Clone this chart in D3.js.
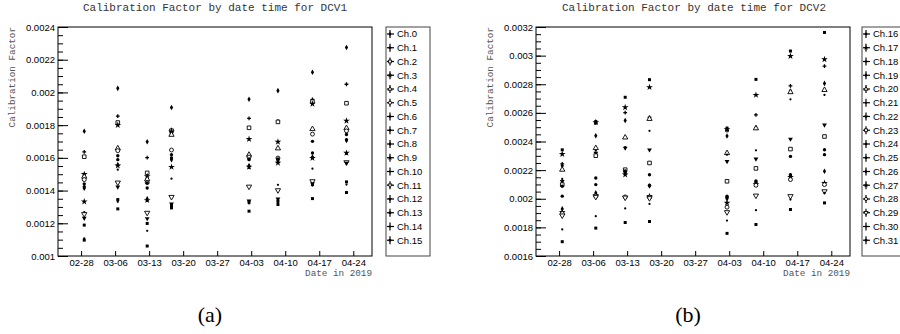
<!DOCTYPE html>
<html>
<head>
<meta charset="utf-8">
<script src="https://cdn.jsdelivr.net/npm/d3@7"></script>
<style>
  body { margin: 0; background: #fff; }
  svg { display: block; }
</style>
</head>
<body>
<svg id="chart" width="900" height="334"></svg>
<script>
// x axis is counted in days from the first tick (02-28)
const tickLabels = ["02-28", "03-06", "03-13", "03-20", "03-27", "04-03", "04-10", "04-17", "04-24"];
const tickDays = [0, 7, 14, 21, 28, 35, 42, 49, 56];
const runDays = [0.65, 7.55, 13.6, 18.6, 34.55, 40.5, 47.6, 54.6];

const channels1 = d3.range(0, 16).map(i => "Ch." + i);
const channels2 = d3.range(16, 32).map(i => "Ch." + i);

// one row per run, 16 values (one per channel)
const dcv1 = [
  [0.001763, 0.001636, 0.001607, 0.0015, 0.001485, 0.001467, 0.001441, 0.001424, 0.001414, 0.001333, 0.001268, 0.001256, 0.001231, 0.001189, 0.001108, 0.001097],
  [0.002025, 0.001855, 0.001816, 0.0018, 0.001658, 0.001644, 0.001613, 0.001589, 0.001558, 0.001552, 0.001528, 0.001449, 0.001422, 0.001345, 0.001331, 0.001288],
  [0.001698, 0.001601, 0.001508, 0.001487, 0.001469, 0.001449, 0.001447, 0.001416, 0.001349, 0.001341, 0.001337, 0.001264, 0.001229, 0.001199, 0.001154, 0.001061],
  [0.001908, 0.001772, 0.001766, 0.001761, 0.001741, 0.001648, 0.001619, 0.001599, 0.001589, 0.001544, 0.001473, 0.001361, 0.001319, 0.001309, 0.001305, 0.001294],
  [0.001958, 0.001841, 0.001784, 0.001715, 0.001619, 0.001605, 0.001594, 0.001589, 0.001552, 0.001545, 0.001538, 0.001424, 0.001337, 0.001329, 0.001321, 0.001274],
  [0.002011, 0.001824, 0.00182, 0.001698, 0.001658, 0.001599, 0.001594, 0.001589, 0.001579, 0.001569, 0.001435, 0.001402, 0.001349, 0.001335, 0.001325, 0.001315],
  [0.002123, 0.001958, 0.001944, 0.00193, 0.001776, 0.001745, 0.001701, 0.00163, 0.001605, 0.001599, 0.001534, 0.001457, 0.001443, 0.001437, 0.001431, 0.001351],
  [0.002275, 0.00205, 0.001934, 0.001826, 0.001782, 0.001765, 0.001743, 0.001711, 0.001706, 0.00163, 0.001625, 0.001573, 0.001568, 0.001453, 0.001437, 0.001388]
];

const dcv2 = [
  [0.002342, 0.002312, 0.002243, 0.002231, 0.002203, 0.002138, 0.002122, 0.002099, 0.002087, 0.002018, 0.001929, 0.001906, 0.001897, 0.001883, 0.001786, 0.0017],
  [0.00254, 0.002534, 0.002528, 0.00244, 0.002354, 0.002336, 0.002319, 0.002301, 0.002145, 0.002099, 0.002041, 0.002025, 0.002019, 0.002013, 0.001878, 0.001795],
  [0.002709, 0.002639, 0.002602, 0.002547, 0.002428, 0.002361, 0.002354, 0.002203, 0.002194, 0.002185, 0.002176, 0.002168, 0.002013, 0.002008, 0.001932, 0.001834],
  [0.002832, 0.002779, 0.002568, 0.002563, 0.002558, 0.002475, 0.002342, 0.00225, 0.002168, 0.002094, 0.002089, 0.002018, 0.002011, 0.002004, 0.001964, 0.001841],
  [0.002493, 0.002485, 0.002477, 0.002438, 0.002319, 0.002308, 0.002261, 0.002122, 0.002018, 0.002009, 0.002, 0.001971, 0.001941, 0.001906, 0.001848, 0.001758],
  [0.002834, 0.002725, 0.002586, 0.002498, 0.002492, 0.002338, 0.002278, 0.002212, 0.002124, 0.002117, 0.00211, 0.002102, 0.002094, 0.002022, 0.00192, 0.00182],
  [0.003032, 0.002997, 0.002788, 0.002753, 0.002745, 0.002695, 0.002417, 0.002347, 0.002296, 0.002168, 0.00216, 0.002152, 0.002134, 0.002018, 0.001994, 0.001925],
  [0.003162, 0.002974, 0.002927, 0.002806, 0.00276, 0.002725, 0.002516, 0.002435, 0.002342, 0.002308, 0.002192, 0.00211, 0.002099, 0.002052, 0.002041, 0.001971]
];

const yTicks1 = [0.001, 0.0012, 0.0014, 0.0016, 0.0018, 0.002, 0.0022, 0.0024];
const yTicks2 = [0.0016, 0.0018, 0.002, 0.0022, 0.0024, 0.0026, 0.0028, 0.003, 0.0032];

// marker style for each channel
const markers1 = ["diamond", "plus", "squareOpen", "star", "triangleOpen", "circleOpen", "circle", "circle",
  "diamond", "star", "dot", "triangleDownOpen", "triangleDown", "square", "dot", "square"];
const markers2 = ["square", "star", "plus", "diamond", "triangleOpen", "dot", "triangleDown", "squareOpen",
  "circle", "circle", "diamond", "star", "circleOpen", "triangleDownOpen", "dot", "square"];

const svg = d3.select("#chart");

function marker(g, type, scale) {
  const k = scale || 1;
  let shape = d3.symbolCircle, size = 9, open = false, rot = 0;
  if (type === "dot") { size = 4; }
  if (type === "square") { shape = d3.symbolSquare; size = 9; }
  if (type === "squareOpen") { shape = d3.symbolSquare; size = 13; open = true; }
  if (type === "circleOpen") { size = 12; open = true; }
  if (type === "diamond") { shape = d3.symbolDiamond; size = 9; }
  if (type === "star") { shape = d3.symbolStar; size = 14; }
  if (type === "plus") { shape = d3.symbolCross; size = 8; }
  if (type === "triangleOpen") { shape = d3.symbolTriangle; size = 12; open = true; }
  if (type === "triangleDown") { shape = d3.symbolTriangle; size = 10; rot = 180; }
  if (type === "triangleDownOpen") { shape = d3.symbolTriangle; size = 12; open = true; rot = 180; }
  const p = g.append("path")
    .attr("d", d3.symbol(shape, size * k * k)())
    .attr("transform", `rotate(${rot})`);
  if (open) p.attr("fill", "#fff").attr("stroke", "#000").attr("stroke-width", 0.9);
  else p.attr("fill", "#000");
}

function drawPanel(opt) {
  const g = svg.append("g")
    .attr("transform", `translate(${opt.left},27)`);
  const w = 314, h = 229;

  const x = d3.scaleLinear().domain([-4.75, 59.85]).range([0, w]);
  const y = d3.scaleLinear().domain(opt.yDomain).range([h, 0]);

  // title
  svg.append("text")
    .attr("x", opt.left + opt.titleDx)
    .attr("y", 11)
    .attr("text-anchor", "middle")
    .attr("font-family", "Liberation Mono, monospace")
    .attr("font-size", 11)
    .attr("fill", "#333")
    .text(opt.title);

  // y axis, ticks inside the frame
  const minor = d3.range(opt.yDomain[0], opt.yDomain[1] + 1e-9, 0.00005);
  g.append("g")
    .call(d3.axisRight(y).tickValues(minor).tickSize(5).tickFormat(""))
    .call(g => g.select(".domain").remove())
    .call(g => g.selectAll("line").attr("stroke", "#000"));
  g.append("g")
    .call(d3.axisRight(y).tickValues(opt.yTicks).tickSize(10).tickFormat(""))
    .call(g => g.select(".domain").remove())
    .call(g => g.selectAll("line").attr("stroke", "#000"));
  g.append("g")
    .call(d3.axisLeft(y).tickValues(opt.yTicks).tickSize(0).tickPadding(3).tickFormat(d => +d.toFixed(4)))
    .call(g => g.select(".domain").remove())
    .call(g => g.selectAll("text")
      .attr("font-family", "Liberation Sans, Arial, sans-serif")
      .attr("font-size", 9.5)
      .attr("fill", "#000"));

  // x axis
  g.append("g")
    .attr("transform", `translate(0,${h})`)
    .call(d3.axisTop(x).tickValues(tickDays).tickSize(5).tickFormat(""))
    .call(g => g.select(".domain").remove())
    .call(g => g.selectAll("line").attr("stroke", "#000"));
  g.append("g")
    .attr("transform", `translate(0,${h})`)
    .call(d3.axisBottom(x).tickValues(tickDays).tickSize(0).tickPadding(3)
      .tickFormat((d, i) => tickLabels[i]))
    .call(g => g.select(".domain").remove())
    .call(g => g.selectAll("text")
      .attr("font-family", "Liberation Sans, Arial, sans-serif")
      .attr("font-size", 9.5)
      .attr("fill", "#000"));

  // axis titles
  g.append("text")
    .attr("x", w)
    .attr("y", h + 20)
    .attr("text-anchor", "end")
    .attr("font-family", "Liberation Mono, monospace")
    .attr("font-size", 9.3)
    .attr("fill", "#555")
    .text("Date in 2019");
  g.append("text")
    .attr("transform", `translate(${opt.yTitleX - opt.left},0) rotate(-90)`)
    .attr("text-anchor", "end")
    .attr("font-family", "Liberation Mono, monospace")
    .attr("font-size", 9.3)
    .attr("fill", "#555")
    .text("Calibration Factor");

  // points
  opt.values.forEach((run, r) => {
    run.forEach((v, c) => {
      const m = g.append("g")
        .attr("transform", `translate(${x(runDays[r])},${y(v)})`);
      marker(m, opt.markers[c]);
    });
  });

  // frame
  g.append("rect")
    .attr("width", w).attr("height", h)
    .attr("fill", "none").attr("stroke", "#000").attr("stroke-width", 1);

  // legend
  const lg = svg.append("g")
    .attr("transform", `translate(${opt.legendX},27)`);
  lg.append("rect")
    .attr("width", 44).attr("height", 229)
    .attr("fill", "#fff").attr("stroke", "#444").attr("stroke-width", 1);
  opt.channels.forEach((name, i) => {
    const e = lg.append("g").attr("transform", `translate(4,${7 + i * 13.75})`);
    e.append("line").attr("x1", -3).attr("x2", 4).attr("stroke", "#000").attr("stroke-width", 1.2);
    e.append("line").attr("y1", -4).attr("y2", 4).attr("stroke", "#000").attr("stroke-width", 1.2);
    marker(e, opt.markers[i], 0.8);
    e.append("text")
      .attr("x", 7)
      .attr("dy", "0.35em")
      .attr("font-family", "Liberation Sans, Arial, sans-serif")
      .attr("font-size", 9.5)
      .text(name);
  });

  // sub caption
  svg.append("text")
    .attr("x", opt.captionX)
    .attr("y", 322)
    .attr("text-anchor", "middle")
    .attr("font-family", "Liberation Serif, serif")
    .attr("font-size", 22)
    .text(opt.caption);
}

drawPanel({
  left: 58, legendX: 386, titleDx: 157, yTitleX: 15, captionX: 210,
  title: "Calibration Factor by date time for DCV1",
  yDomain: [0.001, 0.0024], yTicks: yTicks1,
  values: dcv1, channels: channels1, markers: markers1, caption: "(a)"
});

drawPanel({
  left: 536, legendX: 862, titleDx: 158, yTitleX: 493, captionX: 688,
  title: "Calibration Factor by date time for DCV2",
  yDomain: [0.0016, 0.0032], yTicks: yTicks2,
  values: dcv2, channels: channels2, markers: markers2, caption: "(b)"
});
</script>
</body>
</html>
